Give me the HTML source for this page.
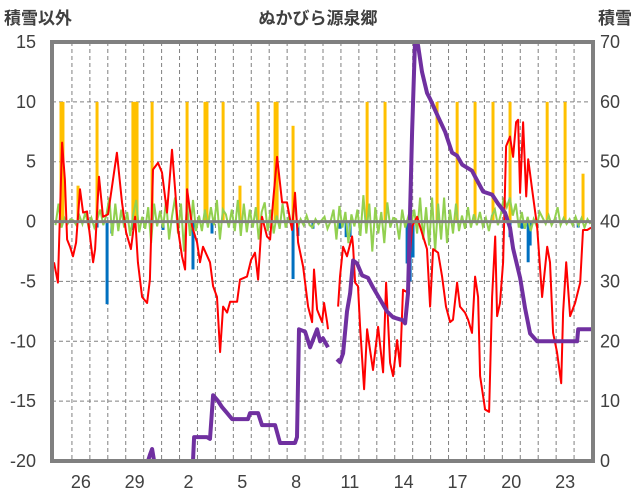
<!DOCTYPE html>
<html><head><meta charset="utf-8"><style>
html,body{margin:0;padding:0;background:#fff;}
svg{display:block;font-family:"Liberation Sans","Noto Sans CJK JP",sans-serif;}
</style></head><body>
<svg id="chart" width="636" height="501" viewBox="0 0 636 501" xmlns="http://www.w3.org/2000/svg">
<text x="4" y="24" font-size="17" font-weight="bold" fill="#404040">積雪以外</text>
<text x="318" y="24" font-size="17" font-weight="bold" fill="#404040" text-anchor="middle">ぬかびら源泉郷</text>
<text x="632" y="24" font-size="17" font-weight="bold" fill="#404040" text-anchor="end">積雪</text>
<g id="grid"></g>
<g id="marks"></g>
<g id="axes"></g>
</svg>
<script>
const leftTicks=[15,10,5,0,-5,-10,-15,-20];
const rightTicks=[70,60,50,40,30,20,10,0];
const dayLabelIdx=[1,4,7,10,13,16,19,22,25,28];
const dayLabels=["26","29","2","5","8","11","14","17","20","23"];
const snowDay=[0.39,0.5,1.34,2.4,4.4,4.52,4.63,5.47,7.42,8.42,8.53,9.43,10.37,11.38,12.33,12.44,13.33,17.46,18.46,21.36,22.48,23.48,24.48,25.43,27.5,28.5,29.5];
const snowVal=[10,10,3,10,10,10,10,10,10,10,10,10,3,10,10,10,8,10,10,10,10,10,10,10,10,10,4];
const rainDay=[2.4,2.96,3.23,4.4,6.08,7.75,8.81,13.33,13.6,14.44,15.95,16.29,16.51,19.69,19.86,20.02,25.43,26.1,26.44,26.55,29.23];
const rainVal=[-0.5,-6.9,-1,-0.7,-0.7,-4,-1,-4.8,-1.2,-0.6,-0.6,-1.3,-1.3,-3.5,-5,-3,-1.3,-0.6,-3.4,-2,-0.5];
const tempDay=[0,0.22,0.45,0.61,0.73,0.89,1.06,1.23,1.45,1.62,1.84,2.01,2.18,2.29,2.51,2.73,3.01,3.29,3.51,3.79,4.02,4.29,4.52,4.68,4.91,5.19,5.35,5.52,5.8,6.02,6.3,6.58,6.75,6.92,7.14,7.31,7.42,7.7,7.98,8.14,8.31,8.7,8.87,9.09,9.26,9.43,9.65,9.82,10.21,10.37,10.76,10.99,11.21,11.38,11.6,11.88,12.05,12.21,12.44,12.72,12.99,13.27,13.44,13.61,13.89,14.17,14.39,14.5,14.67,14.95,15.06,15.23,15.28,null,15.84,15.95,16.12,16.34,16.62,16.68,16.79,16.95,17.07,17.29,17.46,17.62,17.79,18.07,18.35,18.52,18.74,18.91,19.13,19.3,19.46,19.69,19.97,20.25,20.41,20.8,20.97,21.14,21.42,21.64,21.86,22.09,22.25,22.48,22.64,22.92,23.09,23.31,23.48,23.65,23.76,24.04,24.26,24.43,24.6,24.71,24.87,25.04,25.21,25.43,25.6,25.77,25.88,25.99,26.16,26.33,26.44,26.66,26.94,27.22,27.5,27.66,27.83,28.05,28.28,28.39,28.56,28.78,29.06,29.34,29.5,29.73,29.95];
const tempVal=[-3.4,-5.1,6.6,3.5,-1.5,-2.1,-2.9,-1.75,2.7,0.75,0.85,-1.25,-3.4,-2.3,3.75,0.4,0.6,3.5,5.75,1.6,-0.9,-2.3,0.4,-3.4,-6.3,-6.8,-4.85,4.35,4.9,4.1,0.75,6.0,2.7,-0.7,-2.9,-4.0,2.7,-0.4,-1.75,-3.4,-2.1,-3.4,-5.4,-6.3,-10.9,-7.1,-7.6,-6.7,-6.7,-4.85,-4.6,-3.2,-2.6,-4.85,0.4,-1.25,-1.5,1.6,5.4,1.6,1.6,-0.7,2.4,-1.75,-3.75,-7.1,-8.4,-4.0,-7.35,-8.4,-6.8,-8.4,-9.0,null,-7.1,-4.6,-2.1,-2.9,-1.25,-2.1,-5.1,-5.4,-8.8,-14.0,-9.0,-10.7,-12.4,-8.8,-12.6,-5.1,-11.8,-12.9,-9.9,-12.1,-5.7,-5.9,-0.4,0.4,-0.4,-2.3,-7.1,-2.3,-2.6,-4.6,-7.1,-8.4,-8.2,-5.1,-7.1,-7.6,-8.2,-9.3,-4.6,-6.3,-12.9,-15.7,-15.9,-6.3,-1.25,-7.9,-6.8,-3.4,6.3,7.1,5.4,8.3,8.5,2.4,8.3,2.1,5.2,2.7,-0.4,-6.3,-2.1,-3.4,-9.3,-10.9,-13.5,-7.6,-3.4,-7.9,-6.8,-5.1,-0.7,-0.7,-0.5];
const depthDay=[0,5.24,5.35,5.47,5.58,7.75,7.81,8.53,8.7,8.87,9.15,9.37,9.65,9.93,10.82,10.93,11.38,11.6,12.33,12.6,13.44,13.55,13.66,14.0,14.28,14.67,14.84,15.0,15.28,null,15.78,15.95,16.12,16.34,16.51,16.68,16.9,17.18,17.51,17.79,18.18,18.57,18.91,19.46,19.58,19.74,19.97,20.13,20.3,20.52,20.8,20.97,21.42,21.81,22.2,22.48,22.76,23.31,23.48,23.93,24.43,24.76,25.15,25.43,25.6,25.99,26.27,26.55,26.94,29.17,29.23,30];
const depthVal=[0,0,1,2,0,0,4,4,3.7,11,10,9,8,7,7,8,8,6,6,3,3,4,22,21.6,19,22,20,20.5,19,null,17,16.5,18,25,28,33.5,33,31,30.6,29,27,25,24,23.5,23,28,55,70,69.5,65,61.5,60.5,57.5,55,51.5,51,49.5,48.5,47.5,45,44.5,43,41.5,39,35.5,30.6,25.5,21.3,20,20,22,22];
const diffVal=[-0.3,1.5,-0.5,0.3,-0.2,0.2, 0.1,-0.3,0.5,-0.2,0.8,-0.4, 0.3,-0.5,0.2,1.0,-0.3,0.5, 2.0,-1.2,1.5,-0.8,1.0,-0.5, 0.8,-1.2,0.6,1.8,-0.9,0.4, -0.6,1.2,-1.8,1.5,-0.4,0.9, -0.5,1.8,-1.5,0.5,2.0,-1.0, 1.5,-2.5,1.5,-1.2,1.8,-0.8, 0.5,-0.8,1.0,-0.5,1.2,-0.3, 1.8,-1.5,1.0,0.6,-0.5,1.0, -0.8,1.8,-1.2,1.5,-0.9,1.0, -0.5,1.2,-1.5,0.8,1.6,-0.8, 1.0,-1.0,0.5,-0.6,1.5,-0.5, 0.3,-0.4,1.5,-0.5,0.2,-0.3, 0.5,-0.3,-0.5,0.2,-0.2,0.1, 0.4,-0.6,0.0,1.0,-1.5,1.3, -0.5,0.8,-1.8,0.6,-0.4,1.0, -1.2,2.2,-1.0,1.5,-2.5,1.2, -1.0,0.8,-1.8,1.6,-0.5,0.3, 0.2,-1.5,1.0,-0.5,0.4,-0.2, 1.0,-1.0,2.0,-1.5,1.2,-2.0, 2.0,-2.5,1.5,-1.5,2.0,-1.8, 1.0,-1.0,1.5,-0.8,0.5,-0.6, 1.2,-0.5,0.6,-0.3,0.8,-0.4, 0.3,-0.8,0.5,1.0,-0.3,0.6, 2.0,1.2,2.0,0.5,1.5,-0.5, 0.8,-0.6,0.4,-0.8,0.2,-0.4, 0.8,0.3,-0.2,0.5,-0.3,0.2, 1.2,-0.3,0.3,-0.2,0.2,-0.3, 0.4,-0.3,0.3,-0.5,0.2,-0.2];

const NS='http://www.w3.org/2000/svg';
const L=52,R=593,T=42,B=461,X0=54,X1=592,DAYS=30;
const x=d=>X0+(X1-X0)*d/DAYS;
const yl=v=>B-(v+20)/35*(B-T);
const yr=v=>B-v/70*(B-T);
function mk(tag,attrs,parent){const e=document.createElementNS(NS,tag);for(const k in attrs)e.setAttribute(k,attrs[k]);parent.appendChild(e);return e;}
const grid=document.getElementById('grid'),marks=document.getElementById('marks'),axes=document.getElementById('axes');
for(let d=1;d<DAYS;d++){const g=mk('line',{x1:x(d),x2:x(d),y1:T,y2:B,stroke:'#808080','stroke-width':1,'stroke-dasharray':'4,3'},grid);

}
leftTicks.forEach(v=>{if(v===15||v===-20||v===0)return;const g=mk('line',{x1:L,x2:R,y1:yl(v),y2:yl(v),stroke:'#808080','stroke-width':1,'stroke-dasharray':'4,3'},grid);

});
snowDay.forEach((d,i)=>{const r=mk('rect',{x:x(d)-1.5,y:yl(snowVal[i]),width:3,height:yl(0)-yl(snowVal[i]),fill:'#ffc000'},marks);

});
rainDay.forEach((d,i)=>{const r=mk('rect',{x:x(d)-1.5,y:yl(0),width:3,height:yl(rainVal[i])-yl(0),fill:'#0070c0'},marks);

});
let gp='';diffVal.forEach((v,i)=>{gp+=(i?'L':'M')+x((i+0.5)/6).toFixed(1)+','+yl(v).toFixed(1);});
const gl=mk('path',{d:gp,fill:'none',stroke:'#92d050','stroke-width':2},marks);


function pathOf(ds,vs,yf){let p='',pen=false;ds.forEach((d,i)=>{if(d===null||vs[i]===null){pen=false;return;}p+=(pen?'L':'M')+x(d).toFixed(1)+','+yf(vs[i]).toFixed(1);pen=true;});return p;}
const tl=mk('path',{d:pathOf(tempDay,tempVal,yl),fill:'none',stroke:'#ff0000','stroke-width':2,'stroke-linejoin':'round'},marks);


const zl=mk('line',{x1:L,x2:R,y1:yl(0),y2:yl(0),stroke:'#808080','stroke-width':3},axes);


const dl=mk('path',{d:pathOf(depthDay,depthVal,yr),fill:'none',stroke:'#7030a0','stroke-width':4,'stroke-linejoin':'round'},marks);


const fr=mk('rect',{x:L,y:T,width:R-L,height:B-T,fill:'none',stroke:'#808080','stroke-width':4},axes);


leftTicks.forEach(v=>{const t=mk('text',{x:36,y:yl(v)+6,'font-size':18,fill:'#404040','text-anchor':'end'},axes);t.textContent=v;

});
rightTicks.forEach(v=>{const t=mk('text',{x:600,y:yr(v)+6,'font-size':18,fill:'#404040'},axes);t.textContent=v;

});
dayLabelIdx.forEach((d,i)=>{const t=mk('text',{x:x(d+0.5),y:488,'font-size':18,fill:'#404040','text-anchor':'middle'},axes);t.textContent=dayLabels[i];

});
</script>
</body></html>
